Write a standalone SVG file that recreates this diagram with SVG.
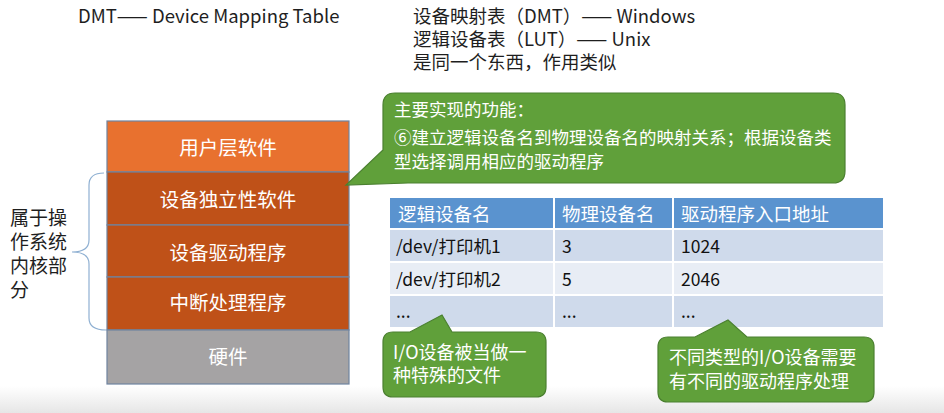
<svg xmlns="http://www.w3.org/2000/svg" width="944" height="413" viewBox="0 0 944 413">
  <style>
    text { font-family: "Noto Sans CJK SC", "Noto Sans", sans-serif; }
    .note { font-size: 18.5px; fill: #1e1e1e; }
    .side { font-size: 19px; fill: #1e1e1e; }
    .layer-label { font-size: 19.5px; fill: #ffffff; text-anchor: middle; }
    .layer { stroke: #6f84a0; stroke-width: 1.2; }
    .callout { fill: #60a03a; stroke: #4b8030; stroke-width: 1.2; }
    .callout-text { font-size: 17.5px; fill: #ffffff; }
    .callout-small { font-size: 18px; fill: #ffffff; }
    .th { font-size: 18.5px; fill: #ffffff; }
    .td { font-size: 17.5px; fill: #111111; }
    .brace { fill: none; stroke: #8fb0d2; stroke-width: 1.2; }
  </style>
  <defs>
    <linearGradient id="floorShade" x1="0" y1="0" x2="0" y2="1">
      <stop offset="0" stop-color="#ffffff"/>
      <stop offset="1" stop-color="#e6e6e6"/>
    </linearGradient>
  </defs>

  <rect width="944" height="413" fill="#ffffff"/>
  <rect x="0" y="386" width="944" height="27" fill="url(#floorShade)"/>

  <!-- header notes -->
  <g id="notes">
    <text class="note" font-size="18" x="78" y="23">DMT—— Device Mapping Table</text>
    <text class="note" x="413" y="23">设备映射表（DMT）—— Windows<tspan x="413" dy="23">逻辑设备表（LUT）—— Unix</tspan><tspan x="413" dy="23">是同一个东西，作用类似</tspan></text>
  </g>

  <!-- I/O software layer stack -->
  <g id="layer-user">
    <rect class="layer" x="107" y="121" width="242" height="51" fill="#e8712f"/>
    <text class="layer-label" x="228" y="155">用户层软件</text>
  </g>
  <g id="layer-independent">
    <rect class="layer" x="107" y="172" width="242" height="53" fill="#bf5118"/>
    <text class="layer-label" x="228" y="207">设备独立性软件</text>
  </g>
  <g id="layer-driver">
    <rect class="layer" x="107" y="225" width="242" height="52" fill="#bf5118"/>
    <text class="layer-label" x="228" y="260">设备驱动程序</text>
  </g>
  <g id="layer-interrupt">
    <rect class="layer" x="107" y="277" width="242" height="53" fill="#bf5118"/>
    <text class="layer-label" x="228" y="310">中断处理程序</text>
  </g>
  <g id="layer-hardware">
    <rect class="layer" x="107" y="330" width="242" height="54" fill="#a5a3a4"/>
    <text class="layer-label" x="228" y="364">硬件</text>
  </g>

  <!-- kernel label -->
  <g id="kernel-label">
    <text class="side" x="10" y="225">属于操<tspan x="10" dy="24">作系统</tspan><tspan x="10" dy="24">内核部</tspan><tspan x="10" dy="24">分</tspan></text>
  </g>

  <!-- connectors -->
  <g id="connectors">
    <path class="brace" d="M 104,173 Q 89,173 89,185 V 240 Q 89,252 72,252 Q 89,252 89,264 V 318 Q 89,330 106,330"/>
  </g>

  <!-- callouts -->
  <g id="callout-function">
    <path class="callout" d="M 395,93 H 833 Q 845,93 845,105 V 171 Q 845,183 833,183 H 408 L 346,185 L 383,150 V 105 Q 383,93 395,93 Z"/>
    <text class="callout-text" x="394" y="116">主要实现的功能：<tspan x="394" dy="28">⑥建立逻辑设备名到物理设备名的映射关系；根据设备类</tspan><tspan x="394" dy="24">型选择调用相应的驱动程序</tspan></text>
  </g>

  <!-- logical unit table -->
  <g id="lut-table">
    <rect x="390" y="198" width="493" height="31" fill="#5a93cf"/>
    <rect x="390" y="229" width="493" height="33" fill="#cfdaeb"/>
    <rect x="390" y="262" width="493" height="33" fill="#e8edf5"/>
    <rect x="390" y="295" width="493" height="32" fill="#cfdaeb"/>
    <g stroke="#ffffff" stroke-width="2">
      <line x1="390" y1="229" x2="883" y2="229"/>
      <line x1="390" y1="262" x2="883" y2="262"/>
      <line x1="390" y1="295" x2="883" y2="295"/>
      <line x1="554" y1="198" x2="554" y2="327"/>
      <line x1="673" y1="198" x2="673" y2="327"/>
    </g>
    <text class="th" x="398" y="221">逻辑设备名</text>
    <text class="th" x="562" y="221">物理设备名</text>
    <text class="th" x="681" y="221">驱动程序入口地址</text>
    <text class="td" x="396" y="253">/dev/打印机1</text>
    <text class="td" x="562" y="253">3</text>
    <text class="td" x="681" y="253">1024</text>
    <text class="td" x="396" y="286">/dev/打印机2</text>
    <text class="td" x="562" y="286">5</text>
    <text class="td" x="681" y="286">2046</text>
    <text class="td" font-size="14" x="396" y="318">...</text>
    <text class="td" font-size="14" x="562" y="318">...</text>
    <text class="td" font-size="14" x="681" y="318">...</text>
  </g>

  <g id="callout-file">
    <path class="callout" d="M 393,332 H 410 L 442,315 L 452,332 H 536 Q 546,332 546,342 V 387 Q 546,397 536,397 H 393 Q 383,397 383,387 V 342 Q 383,332 393,332 Z"/>
    <text class="callout-small" x="393" y="359">I/O设备被当做一<tspan x="393" dy="23">种特殊的文件</tspan></text>
  </g>

  <g id="callout-driver">
    <path class="callout" d="M 668,337 H 695 L 728,320 L 747,337 H 864 Q 874,337 874,347 V 392 Q 874,402 864,402 H 668 Q 658,402 658,392 V 347 Q 658,337 668,337 Z"/>
    <text class="callout-small" x="669" y="364">不同类型的I/O设备需要<tspan x="669" dy="24">有不同的驱动程序处理</tspan></text>
  </g>
</svg>
